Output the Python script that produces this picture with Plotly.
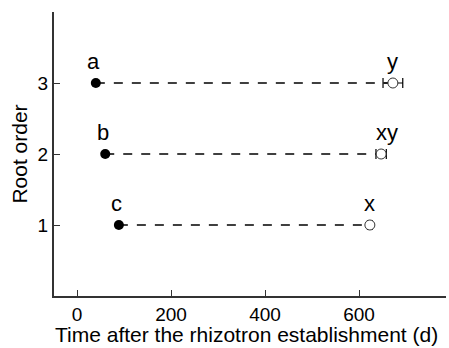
import plotly.graph_objects as go

root_order = [3, 2, 1]
start_day = [40, 60, 89]
start_letters = ["a", "b", "c"]
end_day = [672, 647, 623]
end_err = [21, 11, 5]
end_letters = ["y", "xy", "x"]
x_ticks = [0, 200, 400, 600]
y_ticks = [1, 2, 3]
x_title = "Time after the rhizotron establishment (d)"

fig = go.Figure()
for i in range(len(root_order)):
    fig.add_trace(go.Scatter(
        x=[start_day[i], end_day[i]], y=[root_order[i], root_order[i]],
        mode="lines", line=dict(color="black", width=1.5, dash="dash"),
        showlegend=False, hoverinfo="skip"))

fig.add_trace(go.Scatter(
    x=start_day, y=root_order, mode="markers",
    marker=dict(symbol="circle", size=10, color="black"),
    showlegend=False))
fig.add_trace(go.Scatter(
    x=end_day, y=root_order, mode="markers",
    marker=dict(symbol="circle", size=10, color="white",
                line=dict(color="#333333", width=1)),
    error_x=dict(type="data", array=end_err, color="black", thickness=1.2, width=5),
    showlegend=False))

font_fam = "Liberation Sans, Arial, sans-serif"
for i in range(len(root_order)):
    fig.add_annotation(x=start_day[i], y=root_order[i], text=start_letters[i],
                       showarrow=False, yshift=22, xshift=-2,
                       font=dict(family=font_fam, size=22, color="black"))
    fig.add_annotation(x=end_day[i], y=root_order[i], text=end_letters[i],
                       showarrow=False, yshift=22, xshift=6 if len(end_letters[i]) > 1 else 0,
                       font=dict(family=font_fam, size=22, color="black"))

fig.add_annotation(x=0.5, y=0, xref="paper", yref="paper", text=x_title,
                   showarrow=False, yanchor="top", xanchor="center",
                   yshift=-25, xshift=-4,
                   font=dict(family=font_fam, size=21, color="black"))

axis_common = dict(showline=True, linecolor="#333333", linewidth=2, ticks="inside",
                   ticklen=6, tickwidth=1, tickcolor="#333333", showgrid=False,
                   zeroline=False, mirror=False,
                   tickfont=dict(family=font_fam, size=19, color="black"))

fig.update_layout(
    width=449, height=348, margin=dict(l=54, r=3, t=12, b=52),
    plot_bgcolor="white", paper_bgcolor="white",
    xaxis=dict(range=[-49, 785], tickvals=x_ticks, ticklabelstandoff=0, **axis_common),
    yaxis=dict(range=[0, 4], tickvals=y_ticks,
               title=dict(text="Root order",
                          font=dict(family=font_fam, size=21, color="black"), standoff=4),
               **axis_common),
)

fig.write_html("out.html")
